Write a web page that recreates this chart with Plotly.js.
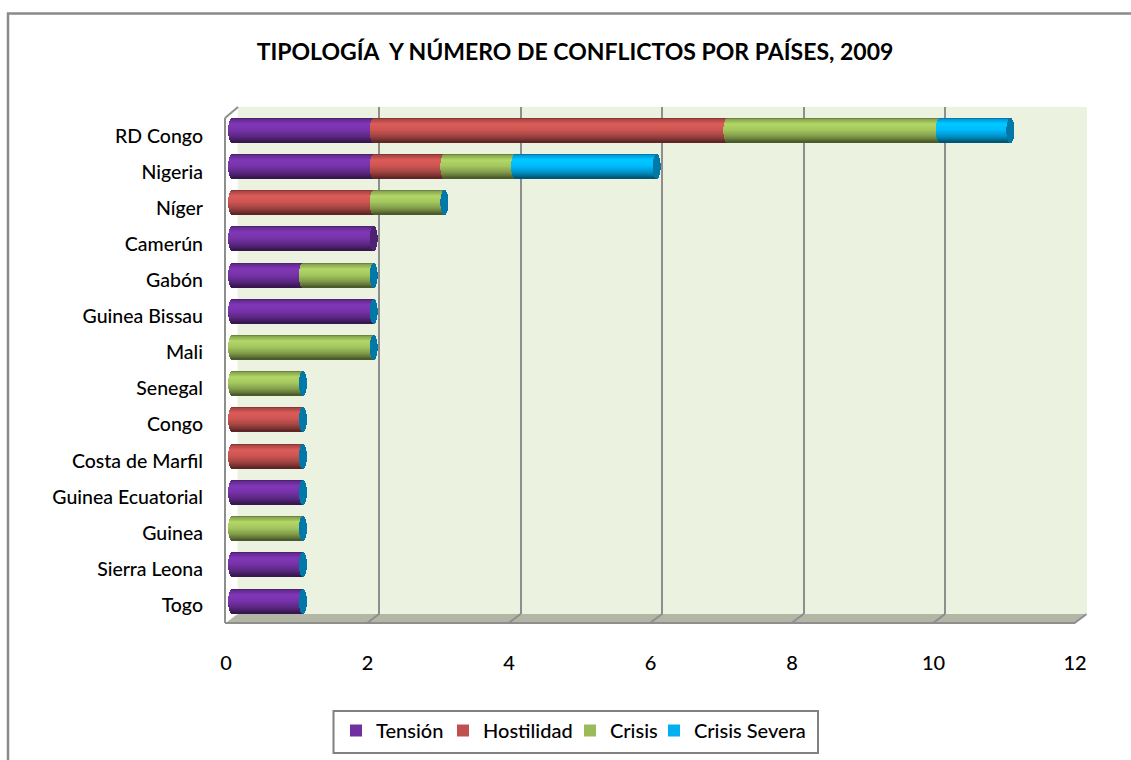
<!DOCTYPE html>
<html><head><meta charset="utf-8">
<script src="https://cdn.plot.ly/plotly-3.0.1.min.js"></script>
<style>html,body{margin:0;padding:0;background:#fff}</style></head>
<body><div id="chart" style="width:1131px;height:760px"></div>
<script>
const categories = ["RD Congo","Nigeria","Níger","Camerún","Gabón","Guinea Bissau","Mali","Senegal","Congo","Costa de Marfil","Guinea Ecuatorial","Guinea","Sierra Leona","Togo"];
const tension    = [2,2,0,2,1,2,0,0,0,0,1,0,1,1];
const hostilidad = [5,1,2,0,0,0,0,0,1,1,0,0,0,0];
const crisis     = [3,1,1,0,1,0,2,1,0,0,0,1,0,0];
const severa     = [1,2,0,0,0,0,0,0,0,0,0,0,0,0];
const xTicks = [0,2,4,6,8,10,12];
const seriesNames = ["Tensión","Hostilidad","Crisis","Crisis Severa"];
const seriesValues = [tension,hostilidad,crisis,severa];
const seriesColors = ["#7030A0","#C0504D","#9BBB59","#00B0F0"];
const capDefault = "#0079A9", capCamerun = "#4F2175";

const W=1131,H=760,FONT="Lato, Carlito, sans-serif";
const fx=p=>p/W, fy=p=>1-p/H;
const UNIT=70.75;
const dom=(a,b)=>[a,b];

// shading profile of the cylinder: top -> bottom
const prof=[[0,.62],[.06,.88],[.25,1.15],[.5,1.06],[.75,.84],[.92,.6],[1,.45]];
function shade(hex,t){
  let m=1;
  for(let i=1;i<prof.length;i++){ if(t<=prof[i][0]){const [a,b]=prof[i-1],[c,d]=prof[i];m=b+(d-b)*(t-a)/(c-a);break;} }
  const n=parseInt(hex.slice(1),16);
  const c=[n>>16&255,n>>8&255,n&255].map(v=>Math.min(255,Math.round(v*m)));
  return `rgb(${c})`;
}
const N=24, BAR=24/36.23, A=4/UNIT;
const traces=[];
const totals=categories.map((_,i)=>seriesValues.reduce((s,v)=>s+v[i],0));
// invisible anchors for the wall axes and the label axes
traces.push({type:'scatter',mode:'markers',x:totals,y:categories,xaxis:'x',yaxis:'y',marker:{opacity:0},showlegend:false,hoverinfo:'skip'});
// cylinder strips
seriesValues.forEach((vals,si)=>{
  const starts=categories.map((_,i)=>seriesValues.slice(0,si).reduce((s,v)=>s+v[i],0));
  for(let k=0;k<N;k++){
    const t=(k+.5)/N, s=Math.sqrt(Math.max(0,1-Math.pow(2*t-1,2)));
    traces.push({type:'bar',orientation:'h',xaxis:'x2',yaxis:'y2',y:categories,x:vals,
      base:starts.map(b=>b-A*s),width:BAR/N,offset:-BAR/2+k*BAR/N,
      marker:{color:shade(seriesColors[si],t),line:{width:0}},showlegend:false,hoverinfo:'skip'});
  }
});
// right-hand end caps
for(let k=0;k<N;k++){
  const t=(k+.5)/N, s=Math.sqrt(Math.max(0,1-Math.pow(2*t-1,2)));
  traces.push({type:'bar',orientation:'h',xaxis:'x2',yaxis:'y2',y:categories,
    x:totals.map(()=>2*A*s),base:totals.map(v=>v-A*s),width:BAR/N,offset:-BAR/2+k*BAR/N,
    marker:{color:categories.map(c=>c==="Camerún"?capCamerun:capDefault),line:{width:0}},showlegend:false,hoverinfo:'skip'});
}
// legend entries (one real legend per entry so each sits where the reference has it)
const legendPx=[336,443,570,654];
seriesNames.forEach((n,i)=>{
  traces.push({type:'bar',orientation:'h',xaxis:'x2',yaxis:'y2',y:[categories[0]],x:[0],name:n,
    marker:{color:seriesColors[i]},showlegend:true,legend:i?'legend'+(i+1):'legend',hoverinfo:'skip'});
});
// label axes
traces.push({type:'scatter',mode:'markers',x:totals,y:categories,xaxis:'x3',yaxis:'y3',marker:{opacity:0},showlegend:false,hoverinfo:'skip'});

const GRID='#8E8E8E';
const shapes=[
  {type:'rect',xref:'paper',yref:'paper',x0:fx(8),x1:fx(1145),y0:fy(13.5),y1:fy(775),line:{color:'#8A8A8A',width:2.5},fillcolor:'#fff',layer:'below'},
  {type:'rect',xref:'paper',yref:'paper',x0:fx(237.6),x1:fx(1087),y0:fy(107),y1:fy(614),line:{width:0},fillcolor:'#EBF2DF',layer:'below'},
  {type:'path',xref:'paper',yref:'paper',layer:'below',fillcolor:'#B3B6A5',line:{width:0},
   path:`M${fx(225.6)},${fy(623)}L${fx(237.6)},${fy(614)}L${fx(1087)},${fy(614)}L${fx(1075)},${fy(623)}Z`},
  {type:'line',xref:'paper',yref:'paper',layer:'below',x0:fx(225),x1:fx(225),y0:fy(118),y1:fy(623),line:{color:GRID,width:2}},
  {type:'line',xref:'paper',yref:'paper',layer:'below',x0:fx(225),x1:fx(238),y0:fy(118),y1:fy(107),line:{color:GRID,width:2}},
  {type:'line',xref:'paper',yref:'paper',layer:'below',x0:fx(225),x1:fx(1075),y0:fy(623),y1:fy(623),line:{color:GRID,width:2}},
  {type:'rect',xref:'paper',yref:'paper',x0:fx(333.5),x1:fx(818),y0:fy(711),y1:fy(753),line:{color:'#808080',width:2},fillcolor:'#fff',layer:'below'}
];
// floor diagonals, one for each tick of the wall axis
xTicks.forEach(v=>{
  shapes.push({type:'line',xref:'x',yref:'paper',layer:'below',x0:v,x1:v-12/UNIT,y0:fy(614),y1:fy(623),line:{color:v===0?'#F2F2F2':GRID,width:2}});
});

const legendCommon=(i)=>({x:fx(legendPx[i]),y:fy(730.5),xanchor:'left',yanchor:'middle',orientation:'h',bgcolor:'rgba(0,0,0,0)',borderwidth:0,
  font:{family:FONT,size:20,color:'#000',weight:500},itemclick:false,itemdoubleclick:false});

const layout={
  width:W,height:H,margin:{l:0,r:0,t:0,b:0},paper_bgcolor:'#fff',plot_bgcolor:'rgba(0,0,0,0)',
  barmode:'overlay',bargap:0,
  title:{text:"TIPOLOGÍA  Y NÚMERO DE CONFLICTOS POR PAÍSES, 2009",x:fx(575),xanchor:'center',y:fy(52),yanchor:'middle',xref:'paper',yref:'paper',
    font:{family:FONT,size:23,color:'#000',weight:700}},
  // back wall
  xaxis:{domain:dom(fx(237.6),fx(237.6+12*UNIT)),range:[0,12],tickvals:xTicks,showticklabels:false,ticks:'',showgrid:true,gridcolor:GRID,gridwidth:2,zeroline:false,showline:false,anchor:'y'},
  yaxis:{domain:dom(fy(614),fy(107)),type:'category',categoryorder:'array',categoryarray:categories,range:[13.5,-.5],showticklabels:false,ticks:'',showgrid:false,zeroline:false,showline:false,anchor:'x'},
  // bars (range runs past zero so the rounded ends are not clipped)
  xaxis2:{domain:dom(fx(232-.2*UNIT),fx(232+12.2*UNIT)),range:[-.2,12.2],visible:false,anchor:'y2'},
  yaxis2:{domain:dom(fy(130+13.5*36.23),fy(130-.5*36.23)),type:'category',categoryorder:'array',categoryarray:categories,range:[13.5,-.5],visible:false,anchor:'x2'},
  // labels
  xaxis3:{domain:dom(fx(226),fx(226+12*UNIT)),range:[0,12],tickvals:xTicks,ticks:'',ticklen:0,showgrid:false,zeroline:false,showline:false,anchor:'free',position:fy(649),
    tickfont:{family:FONT,size:20,color:'#000',weight:500}},
  yaxis3:{domain:dom(fy(136+13.5*36.08),fy(136-.5*36.08)),type:'category',categoryorder:'array',categoryarray:categories,range:[13.5,-.5],ticks:'',showgrid:false,zeroline:false,showline:false,anchor:'free',position:fx(203),
    tickfont:{family:FONT,size:19.5,color:'#000',weight:500}},
  shapes,
  legend:legendCommon(0),legend2:legendCommon(1),legend3:legendCommon(2),legend4:legendCommon(3)
};
Plotly.newPlot('chart',traces,layout,{displayModeBar:false,responsive:false});
</script></body></html>
